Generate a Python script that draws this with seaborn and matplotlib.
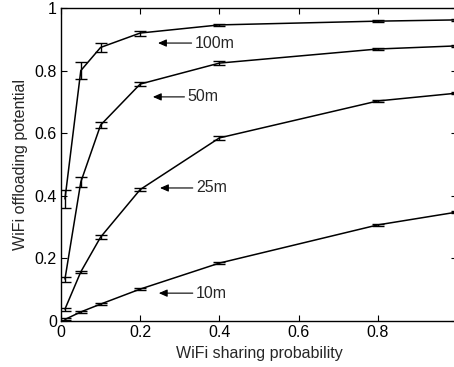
import matplotlib
matplotlib.use("Agg")
import matplotlib.pyplot as plt
import seaborn as sns
import pandas as pd
from matplotlib.ticker import FuncFormatter

# sharing probability
prob = [0.01, 0.05, 0.1, 0.2, 0.4, 0.8, 1.0]

# offloading potential per WiFi range
pot_100 = [0.39, 0.80, 0.874, 0.92, 0.946, 0.958, 0.962]
pot_50 = [0.134, 0.444, 0.626, 0.757, 0.824, 0.869, 0.879]
pot_25 = [0.038, 0.157, 0.268, 0.42, 0.585, 0.703, 0.728]
pot_10 = [0.005, 0.029, 0.054, 0.102, 0.185, 0.307, 0.348]

err_100 = [0.029, 0.028, 0.015, 0.008, 0.004, 0.003, 0.003]
err_50 = [0.008, 0.016, 0.010, 0.005, 0.006, 0.004, 0.004]
err_25 = [0.005, 0.004, 0.006, 0.005, 0.006, 0.004, 0.004]
err_10 = [0.003, 0.003, 0.003, 0.003, 0.003, 0.003, 0.003]

ranges = ["100m", "50m", "25m", "10m"]
# label position (text x, y) and arrow head x
label_x = [0.338, 0.32, 0.341, 0.341]
label_y = [0.888, 0.716, 0.425, 0.089]
arrow_x = [0.245, 0.232, 0.25, 0.247]

sns.set_style("ticks")
plt.rcParams["font.family"] = ["Liberation Sans", "DejaVu Sans"]

rows = []
for name, vals in zip(ranges, [pot_100, pot_50, pot_25, pot_10]):
    for p, v in zip(prob, vals):
        rows.append({"prob": p, "pot": v, "range": name})
df = pd.DataFrame(rows)

fig = plt.figure(figsize=(4.54, 3.67), dpi=100)
ax = fig.add_axes([61 / 454, 1 - 321 / 367, 396 / 454, 313 / 367])

sns.lineplot(data=df, x="prob", y="pot", units="range", estimator=None,
             color="black", linewidth=1.1, ax=ax)

for vals, errs in zip([pot_100, pot_50, pot_25, pot_10],
                      [err_100, err_50, err_25, err_10]):
    ax.errorbar(prob, vals, yerr=errs, fmt="none", ecolor="black",
                elinewidth=1.0, capsize=4, capthick=1.0)

for name, tx, ty, ax_x in zip(ranges, label_x, label_y, arrow_x):
    ax.annotate(name, xy=(ax_x, ty), xytext=(tx, ty), fontsize=11.5,
                va="center", ha="left",
                arrowprops=dict(arrowstyle="-|>,head_length=0.5,head_width=0.22",
                                color="black", lw=0.8,
                                shrinkA=0, shrinkB=0, mutation_scale=10))

ax.set_xlim(0, 1)
ax.set_ylim(0, 1)
ax.set_xticks([0, 0.2, 0.4, 0.6, 0.8, 1.0])
ax.set_yticks([0, 0.2, 0.4, 0.6, 0.8, 1.0])
fmt = FuncFormatter(lambda v, _: "%g" % v)
ax.xaxis.set_major_formatter(fmt)
ax.yaxis.set_major_formatter(fmt)
ax.tick_params(direction="in", length=4, width=0.8, labelsize=11.5,
               top=True, right=True, colors="black", pad=3)
for s in ax.spines.values():
    s.set_visible(True)
    s.set_linewidth(1.0)
    s.set_color("black")

ax.set_xlabel("WiFi sharing probability", fontsize=11.5, labelpad=4)
ax.set_ylabel("WiFi offloading potential", fontsize=11.5, labelpad=5)
if ax.get_legend():
    ax.get_legend().remove()

fig.savefig("out.png", dpi=100)
